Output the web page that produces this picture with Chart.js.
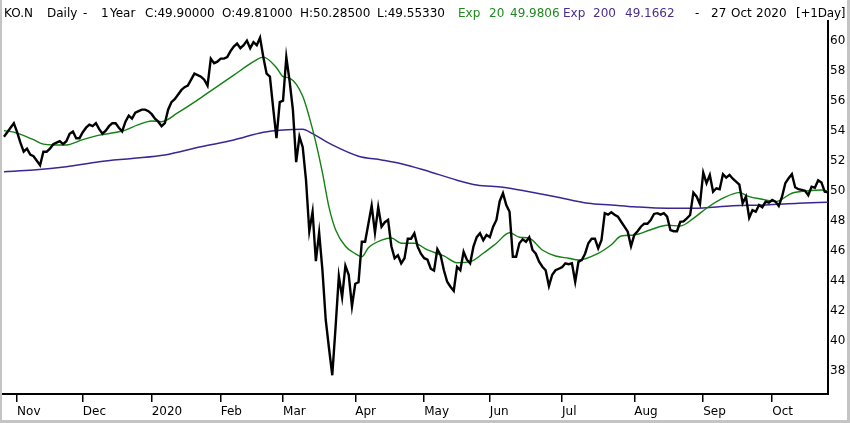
<!DOCTYPE html>
<html>
<head>
<meta charset="utf-8">
<script src="https://cdn.jsdelivr.net/npm/chart.js@4.4.1/dist/chart.umd.min.js"></script>
<style>
  html, body { margin: 0; padding: 0; background: #fff; }
  #wrap { position: relative; width: 850px; height: 423px; overflow: hidden; background: #fff; }
  #grafico { position: absolute; left: 0; top: 0; }
  #moldura { position: absolute; left: 0; top: 0; width: 850px; height: 423px; box-sizing: border-box;
             border-left: 2px solid #c4c4c4; border-right: 3px solid #c4c4c4; border-bottom: 3px solid #c4c4c4;
             pointer-events: none; }
  #titulo span { position: absolute; top: 6px; font: 12px "DejaVu Sans", sans-serif; line-height: 14px; white-space: pre; color: #000; }
  #titulo .verde { color: #1f8a1f; }
  #titulo .roxo { color: #4b2d8f; }
</style>
</head>
<body>
<div id="wrap">
  <canvas id="grafico" width="850" height="423"></canvas>
  <div id="titulo">
    <span style="left:4px">KO.N</span>
    <span style="left:47px">Daily</span>
    <span style="left:83px">-</span>
    <span style="left:101px">1</span>
    <span style="left:110px">Year</span>
    <span style="left:145px">C:49.90000</span>
    <span style="left:222px">O:49.81000</span>
    <span style="left:300px">H:50.28500</span>
    <span style="left:377px">L:49.55330</span>
    <span class="verde" style="left:458px">Exp</span>
    <span class="verde" style="left:489px">20</span>
    <span class="verde" style="left:510px">49.9806</span>
    <span class="roxo" style="left:563px">Exp</span>
    <span class="roxo" style="left:593px">200</span>
    <span class="roxo" style="left:625px">49.1662</span>
    <span style="left:695px">-</span>
    <span style="left:711px">27</span>
    <span style="left:731px">Oct</span>
    <span style="left:756px">2020</span>
    <span style="left:796px; letter-spacing:-0.2px">[+1Day]</span>
  </div>
  <div id="moldura"></div>
</div>
<script>
// ===== DADOS (fechamentos diarios) =====
// dia 0 = 28 Oct 2019, ultimo = 27 Oct 2020
const fechamentos = [
  53.6, 53.9, 54.2, 54.5, 53.9, 53.2, 52.6, 52.8, 52.4, 52.3,
  52.0, 51.7, 52.6, 52.6, 52.8, 53.1, 53.2, 53.3, 53.1, 53.3,
  53.8, 53.95, 53.5, 53.5, 53.9, 54.2, 54.4, 54.3, 54.5, 54.1,
  53.8, 54.0, 54.3, 54.5, 54.5, 54.2, 53.95, 54.6, 55.0, 54.8,
  55.2, 55.3, 55.4, 55.4, 55.3, 55.1, 54.8, 54.6, 54.3, 54.5,
  55.4, 55.9, 56.1, 56.4, 56.7, 56.9, 57.0, 57.4, 57.8, 57.7,
  57.6, 57.4, 57.0, 58.8, 58.5, 58.6, 58.8, 58.8, 58.9, 59.3,
  59.6, 59.8, 59.5, 59.7, 60.0, 59.5, 59.9, 59.7, 60.2, 58.9,
  57.8, 57.6, 55.5, 53.5, 55.9, 56.0, 58.9, 57.3, 55.4, 51.9,
  53.6, 52.9, 50.7, 47.3, 48.6, 45.3, 47.2, 44.7, 41.4, 39.5,
  37.7, 40.9, 44.3, 42.9, 45.0, 44.4, 42.3, 43.8, 43.9, 46.6,
  46.6, 47.8, 49.0, 47.2, 48.9, 47.6, 47.9, 48.05, 46.3, 45.5,
  45.7, 45.16, 45.5, 46.8, 46.8, 47.16, 46.27, 45.8, 45.5, 45.4,
  44.8, 44.67, 46.1, 45.7, 44.7, 43.93, 43.6, 43.33, 44.93, 44.7,
  45.93, 45.4, 45.16, 46.27, 46.9, 47.16, 46.7, 47.05, 46.9, 47.6,
  48.05, 49.3, 49.83, 49.05, 48.6, 45.6, 45.6, 46.5, 46.76, 46.6,
  46.9, 46.05, 45.8, 45.27, 44.93, 44.7, 43.65, 44.4, 44.7, 44.8,
  44.9, 45.16, 45.1, 45.16, 43.93, 45.27, 45.38, 45.8, 46.5, 46.8,
  46.8, 46.16, 46.7, 48.5, 48.4, 48.56, 48.4, 48.27, 47.93, 47.6,
  47.27, 46.3, 47.05, 47.3, 47.6, 47.8, 47.8, 48.05, 48.45, 48.5,
  48.4, 48.5, 48.27, 47.38, 47.3, 47.3, 47.93, 47.95, 48.16, 48.38,
  49.87, 49.6, 49.1, 51.2, 50.5, 51.05, 49.93, 50.16, 50.1, 51.1,
  50.87, 51.05, 50.8, 50.6, 50.4, 49.16, 49.6, 48.2, 48.7, 48.6,
  49.05, 48.9, 49.27, 49.2, 49.38, 49.27, 48.98, 49.6, 50.5, 50.83,
  51.1, 50.23, 50.1, 50.05, 50.0, 49.7, 50.27, 50.2, 50.7, 50.55,
  49.93, 49.9
];

const exp20Dias = [0, 3, 9, 12, 15, 19, 24, 29, 36, 41, 45, 48, 53, 58, 62, 70, 76, 79, 83, 85, 87, 91, 93, 95, 97, 99, 101, 104, 107, 109, 111, 115, 118, 121, 125, 129, 134, 138, 142, 146, 150, 154, 157, 160, 164, 168, 172, 175, 181, 185, 188, 192, 197, 202, 206, 210, 214, 219, 224, 227, 231, 235, 240, 245, 249, 251];
const exp20Valores = [54.0, 53.9, 53.4, 53.1, 53.05, 53.05, 53.4, 53.7, 53.98, 54.4, 54.65, 54.6, 55.2, 55.9, 56.5, 57.7, 58.6, 58.9, 58.2, 57.6, 57.5, 56.3, 54.9, 53.2, 51.2, 48.9, 47.4, 46.3, 45.8, 45.6, 46.2, 46.7, 46.85, 46.5, 46.5, 46.05, 45.65, 45.2, 45.27, 45.83, 46.5, 47.2, 46.9, 46.83, 46.05, 45.65, 45.5, 45.38, 45.83, 46.4, 46.98, 47.05, 47.4, 47.7, 47.65, 48.16, 48.83, 49.5, 49.87, 49.6, 49.43, 49.27, 49.83, 50.0, 50.05, 49.98];

// media exponencial 200
const exp200Dias = [0, 9, 19, 29, 39, 49, 60, 70, 79, 85, 91, 94, 100, 108, 115, 121, 128, 138, 144, 152, 160, 168, 178, 185, 192, 202, 210, 222, 232, 242, 251];
const exp200Valores = [51.27, 51.38, 51.6, 51.93, 52.15, 52.38, 52.93, 53.38, 53.9, 54.05, 54.1, 53.8, 53.05, 52.3, 52.05, 51.8, 51.38, 50.7, 50.38, 50.23, 49.93, 49.6, 49.16, 49.05, 48.93, 48.83, 48.83, 49.0, 49.05, 49.16, 49.23];

// eixo x: inicio de cada mes (dia de pregao) e rotulos
const inicioMes = [4, 24, 45, 66, 85, 107, 128, 148, 170, 192, 213, 234];
const rotulosMes = ['Nov', 'Dec', '2020', 'Feb', 'Mar', 'Apr', 'May', 'Jun', 'Jul', 'Aug', 'Sep', 'Oct'];

// eixo y
const ticksPreco = [38, 40, 42, 44, 46, 48, 50, 52, 54, 56, 58, 60];

const fonte = { family: '"DejaVu Sans", sans-serif', size: 12 };

const ctx = document.getElementById('grafico').getContext('2d');
const grafico = new Chart(ctx, {
    type: 'line',
    data: {
        datasets: [
            {
                label: 'Exp 200',
                data: exp200Dias.map((d, i) => ({ x: d, y: exp200Valores[i] })),
                borderColor: '#3b2594',
                borderWidth: 1.5,
                pointRadius: 0,
                cubicInterpolationMode: 'monotone',
                order: 3
            },
            {
                label: 'Exp 20',
                data: exp20Dias.map((d, i) => ({ x: d, y: exp20Valores[i] })),
                borderColor: '#138013',
                borderWidth: 1.4,
                pointRadius: 0,
                cubicInterpolationMode: 'monotone',
                order: 2
            },
            {
                label: 'KO.N',
                data: fechamentos.map((v, i) => ({ x: i, y: v })),
                borderColor: '#000000',
                borderWidth: 2.4,
                pointRadius: 0,
                tension: 0,
                order: 1
            }
        ]
    },
    options: {
        responsive: false,
        animation: false,
        layout: { padding: { left: 3, top: 21, right: 0, bottom: 0 } },
        plugins: {
            legend: { display: false },
            tooltip: { enabled: false }
        },
        scales: {
            x: {
                type: 'linear',
                min: -0.3,
                max: 251,
                afterBuildTicks: (escala) => { escala.ticks = inicioMes.map(v => ({ value: v })); },
                afterFit: (escala) => { escala.height = 29; },
                grid: { drawOnChartArea: false, drawTicks: true, tickLength: 8, color: '#000', lineWidth: 1.5 },
                border: { display: true, color: '#000', width: 2 },
                ticks: {
                    autoSkip: false,
                    maxRotation: 0,
                    align: 'start',
                    padding: 3,
                    color: '#000',
                    font: fonte,
                    callback: (valor, indice) => rotulosMes[indice]
                }
            },
            y: {
                position: 'right',
                min: 36.45,
                max: 61.31,
                afterBuildTicks: (escala) => { escala.ticks = ticksPreco.map(v => ({ value: v })); },
                afterFit: (escala) => { escala.width = 22; },
                grid: { display: false, drawTicks: false, tickLength: 0 },
                border: { display: true, color: '#000', width: 2 },
                ticks: { padding: 2, color: '#000', font: fonte }
            }
        }
    }
});
</script>
</body>
</html>
